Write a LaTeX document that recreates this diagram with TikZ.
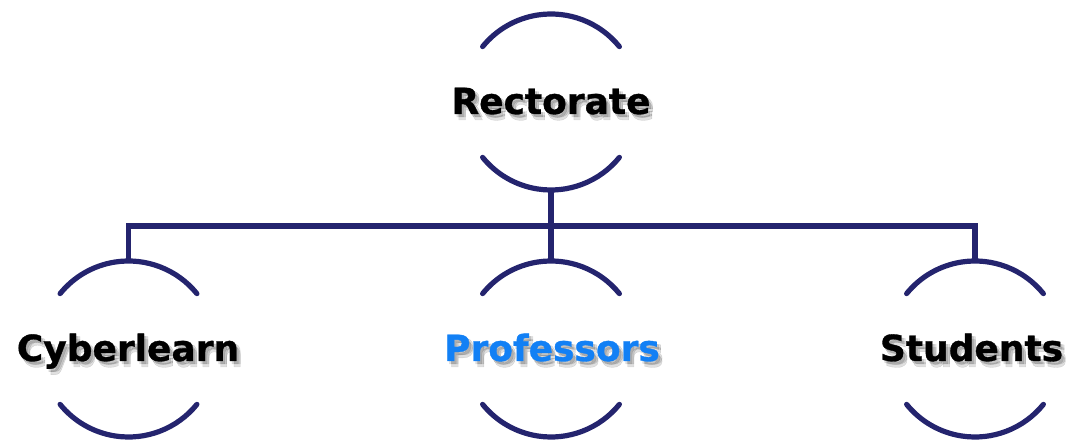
\documentclass[tikz,border=0pt]{standalone}
\usepackage{fontspec}
\setmainfont{DejaVu Sans}[BoldFeatures={FakeBold=0.9}]
\definecolor{navy}{RGB}{36,36,110}
\definecolor{profblue}{RGB}{18,128,245}
\begin{document}
\begin{tikzpicture}[x=1pt,y=1pt,
  ring/.style={circle,minimum size=176pt,inner sep=0pt,draw=none},
  lbl/.style={font=\fontsize{36}{42}\bfseries\selectfont,anchor=base,inner sep=0pt},
  shd/.style={lbl,text=black,opacity=0.12},
  conn/.style={draw=navy,line width=5.2pt},
  arcline/.style={draw=navy,line width=5.2pt,line cap=round}]
\useasboundingbox (0,0) rectangle (1071,441);
% circles (invisible)
\node[ring] (rect) at (551,339) {};
\node[ring] (cyb) at (128.5,92) {};
\node[ring] (prof) at (551,92) {};
\node[ring] (stud) at (975,92) {};
% arcs
\foreach \n in {rect,cyb,prof,stud}{
  \draw[arcline] ([shift={(39:88)}]\n.center) arc[start angle=39,end angle=141,radius=88];
  \draw[arcline] ([shift={(-39:88)}]\n.center) arc[start angle=-39,end angle=-141,radius=88];
}
% connectors
\coordinate (bus) at (551,215);
\draw[conn] (rect.south) -- (bus);
\draw[conn] (cyb.north) |- (bus) -| (stud.north);
\draw[conn] (bus) -- (prof.north);
% text shadows
\foreach \dx/\dy in {2/-3,4/-6,4/-3}{
  \node[shd] (rs\dx\dy) at ([shift={(\dx,\dy)}]551,327) {Rectorate};
  \node[shd] (cs\dx\dy) at ([shift={(\dx,\dy)}]128,80) {Cyberlearn};
  \node[shd] (ps\dx\dy) at ([shift={(\dx,\dy)}]552,80) {Professors};
  \node[shd] (ss\dx\dy) at ([shift={(\dx,\dy)}]971.5,80) {Students};
}
% labels
\node[lbl] (rectlbl) at (551,327) {Rectorate};
\node[lbl] (cyblbl) at (128,80) {Cyberlearn};
\node[lbl,text=profblue] (proflbl) at (552,80) {Professors};
\node[lbl] (studlbl) at (971.5,80) {Students};
\end{tikzpicture}
\end{document}
